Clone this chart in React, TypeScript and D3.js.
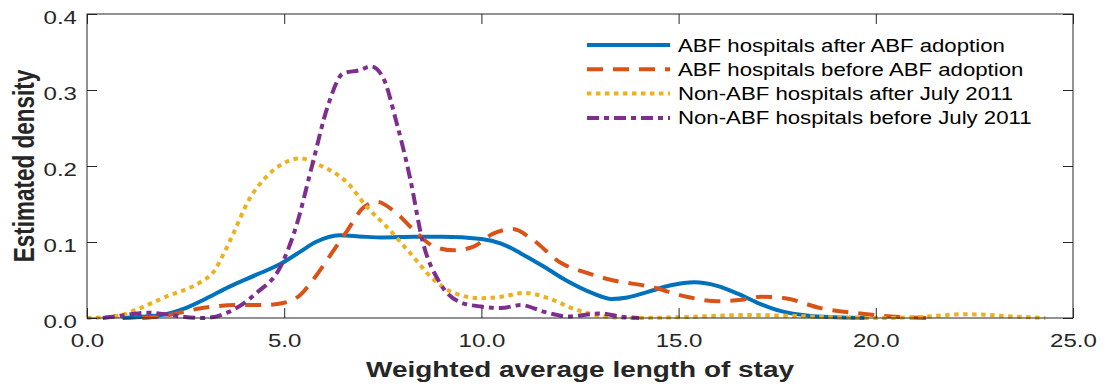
import React, { useEffect, useRef } from 'react';
import * as d3 from 'd3';

// tick values
const xTicks = [0, 5, 10, 15, 20, 25];
const yTicks = [0, 0.1, 0.2, 0.3, 0.4];

// ABF hospitals after ABF adoption
const abfAfterX = [0.9, 1.5, 2.0, 2.5, 3.0, 3.6, 4.3, 4.9, 5.4, 5.8, 6.4, 7.0, 7.5, 8.3, 9.0, 10.0, 10.5, 11.0, 11.6, 12.2, 12.8, 13.3, 13.7, 14.2, 14.8, 15.4, 16.0, 16.5, 17.0, 17.6, 18.3, 19.0, 19.8];
const abfAfterY = [0, 0.002, 0.005, 0.013, 0.025, 0.041, 0.057, 0.071, 0.087, 0.1, 0.109, 0.107, 0.106, 0.107, 0.107, 0.104, 0.098, 0.085, 0.067, 0.048, 0.033, 0.025, 0.027, 0.034, 0.043, 0.047, 0.042, 0.032, 0.02, 0.009, 0.003, 0.001, 0];

// ABF hospitals before ABF adoption
const abfBeforeX = [1.4, 2.0, 2.6, 3.2, 3.8, 4.5, 5.0, 5.4, 5.8, 6.2, 6.6, 7.0, 7.35, 7.8, 8.3, 8.8, 9.3, 9.8, 10.3, 10.8, 11.3, 12.0, 12.7, 13.3, 14.3, 15.2, 16.0, 16.6, 17.1, 17.7, 18.6, 19.6, 20.4, 21.3];
const abfBeforeY = [0, 0.003, 0.01, 0.015, 0.017, 0.017, 0.02, 0.03, 0.055, 0.085, 0.115, 0.145, 0.153, 0.14, 0.115, 0.094, 0.089, 0.094, 0.111, 0.117, 0.103, 0.073, 0.059, 0.05, 0.041, 0.028, 0.022, 0.024, 0.028, 0.026, 0.013, 0.006, 0.002, 0];

// Non-ABF hospitals after July 2011
const nonAfterX = [0, 0.8, 1.2, 2.0, 2.9, 3.2, 3.45, 3.7, 4.1, 4.55, 5.0, 5.4, 5.9, 6.6, 7.1, 7.6, 8.2, 8.8, 9.3, 10.0, 10.5, 11.1, 11.7, 12.4, 13.0, 13.8, 15.0, 16.0, 16.8, 17.7, 18.9, 20.0, 21.0, 22.3, 23.5, 24.3];
const nonAfterY = [0, 0.003, 0.01, 0.028, 0.048, 0.06, 0.083, 0.11, 0.155, 0.186, 0.204, 0.21, 0.201, 0.178, 0.146, 0.12, 0.085, 0.05, 0.033, 0.026, 0.028, 0.033, 0.026, 0.011, 0.003, 0, 0.001, 0.003, 0.004, 0.003, 0.001, 0, 0.001, 0.005, 0.002, 0];

// Non-ABF hospitals before July 2011
const nonBeforeX = [0.4, 1.0, 1.5, 2.0, 2.4, 2.95, 3.6, 4.3, 4.9, 5.3, 5.7, 6.1, 6.5, 6.9, 7.2, 7.5, 7.85, 8.2, 8.5, 8.95, 9.5, 10.0, 10.5, 11.0, 11.6, 12.2, 13.0, 13.5, 14.0];
const nonBeforeY = [0, 0.004, 0.007, 0.005, 0.002, 0, 0.008, 0.033, 0.067, 0.12, 0.199, 0.278, 0.322, 0.326, 0.331, 0.317, 0.257, 0.182, 0.103, 0.046, 0.02, 0.015, 0.013, 0.017, 0.008, 0.002, 0.006, 0.002, 0];

const seriesNames = [
  'ABF hospitals after ABF adoption',
  'ABF hospitals before ABF adoption',
  'Non-ABF hospitals after July 2011',
  'Non-ABF hospitals before July 2011',
];
const seriesColors = ['#0072BD', '#D95319', '#EDB120', '#7E2F8E'];
const seriesDash = ['none', '16,10', '4.5,4.5', '12,5,5,5'];

const FONT = '"Liberation Sans", Arial, Helvetica, sans-serif';

export default function App() {
  const svgRef = useRef<SVGSVGElement>(null);

  useEffect(() => {
    const width = 1107;
    const height = 387;
    const left = 87, right = 1073, top = 14, bottom = 318;
    const ink = '#262626';
    const sx = 1.3; // glyphs in the picture are horizontally stretched

    const x = d3.scaleLinear().domain([0, 25]).range([left, right]);
    const y = d3.scaleLinear().domain([0, 0.4]).range([bottom, top]);

    const svg = d3.select(svgRef.current)
      .attr('width', width)
      .attr('height', height)
      .attr('viewBox', `0 0 ${width} ${height}`);
    svg.selectAll('*').remove();

    svg.append('rect').attr('width', width).attr('height', height).attr('fill', '#fff');

    // series
    const line = d3.line<[number, number]>()
      .x(d => x(d[0]))
      .y(d => y(d[1]))
      .curve(d3.curveMonotoneX);

    const data: [number, number][][] = [
      abfAfterX.map((v, i) => [v, abfAfterY[i]]),
      abfBeforeX.map((v, i) => [v, abfBeforeY[i]]),
      nonAfterX.map((v, i) => [v, nonAfterY[i]]),
      nonBeforeX.map((v, i) => [v, nonBeforeY[i]]),
    ];

    data.forEach((d, i) => {
      svg.append('path')
        .datum(d)
        .attr('fill', 'none')
        .attr('stroke', seriesColors[i])
        .attr('stroke-width', 4)
        .attr('stroke-dasharray', seriesDash[i])
        .attr('stroke-linejoin', 'round')
        .attr('d', line);
    });

    // axes (ticks inside, mirrored on top/right)
    const styleAxis = (g: d3.Selection<SVGGElement, unknown, null, undefined>) => {
      g.select('.domain').remove();
      g.selectAll('.tick line').attr('stroke', ink).attr('stroke-width', 1);
    };

    svg.append('g')
      .attr('transform', `translate(0,${bottom})`)
      .call(d3.axisBottom(x).tickValues(xTicks).tickSize(-10).tickFormat(d3.format('.1f')))
      .call(styleAxis)
      .call(g => g.selectAll('.tick text')
        .attr('y', null).attr('dy', null)
        .attr('transform', `translate(0,29) scale(${sx},1)`)
        .attr('fill', ink)
        .style('font-family', FONT)
        .style('font-size', '18.5px'));

    svg.append('g')
      .attr('transform', `translate(${left},0)`)
      .call(d3.axisLeft(y).tickValues(yTicks).tickSize(-10).tickFormat(d3.format('.1f')))
      .call(styleAxis)
      .call(g => g.selectAll('.tick text')
        .attr('x', null).attr('dy', null)
        .attr('text-anchor', 'end')
        .attr('transform', `translate(-10,9) scale(${sx},1)`)
        .attr('fill', ink)
        .style('font-family', FONT)
        .style('font-size', '18.5px'));

    svg.append('g')
      .attr('transform', `translate(0,${top})`)
      .call(d3.axisTop(x).tickValues(xTicks).tickSize(-10).tickFormat(() => ''))
      .call(styleAxis);

    svg.append('g')
      .attr('transform', `translate(${right},0)`)
      .call(d3.axisRight(y).tickValues(yTicks).tickSize(-10).tickFormat(() => ''))
      .call(styleAxis);

    svg.append('rect')
      .attr('x', left).attr('y', top)
      .attr('width', right - left).attr('height', bottom - top)
      .attr('fill', 'none').attr('stroke', ink).attr('stroke-width', 1);

    // axis labels
    svg.append('text')
      .attr('transform', `translate(${(left + right) / 2},377) scale(${sx},1)`)
      .attr('text-anchor', 'middle')
      .attr('fill', ink)
      .style('font-family', FONT)
      .style('font-weight', 'bold')
      .style('font-size', '21.5px')
      .text('Weighted average length of stay');

    svg.append('text')
      .attr('transform', `translate(34,${(top + bottom) / 2}) scale(1.35,1) rotate(-90)`)
      .attr('text-anchor', 'middle')
      .attr('fill', ink)
      .style('font-family', FONT)
      .style('font-weight', 'bold')
      .style('font-size', '22.5px')
      .text('Estimated density');

    // legend
    const legend = svg.append('g');
    seriesNames.forEach((name, i) => {
      const ly = 45 + i * 24.3;
      legend.append('line')
        .attr('x1', 587).attr('x2', 670)
        .attr('y1', ly).attr('y2', ly)
        .attr('stroke', seriesColors[i])
        .attr('stroke-width', 4)
        .attr('stroke-dasharray', seriesDash[i]);
      legend.append('text')
        .attr('transform', `translate(678,${ly + 6.5}) scale(1.2,1)`)
        .attr('fill', '#000')
        .style('font-family', FONT)
        .style('font-size', '18.5px')
        .text(name);
    });
  }, []);

  return (
    <div style={{ position: 'absolute', left: 0, top: 0 }}>
      <svg ref={svgRef} style={{ display: 'block' }}></svg>
    </div>
  );
}
